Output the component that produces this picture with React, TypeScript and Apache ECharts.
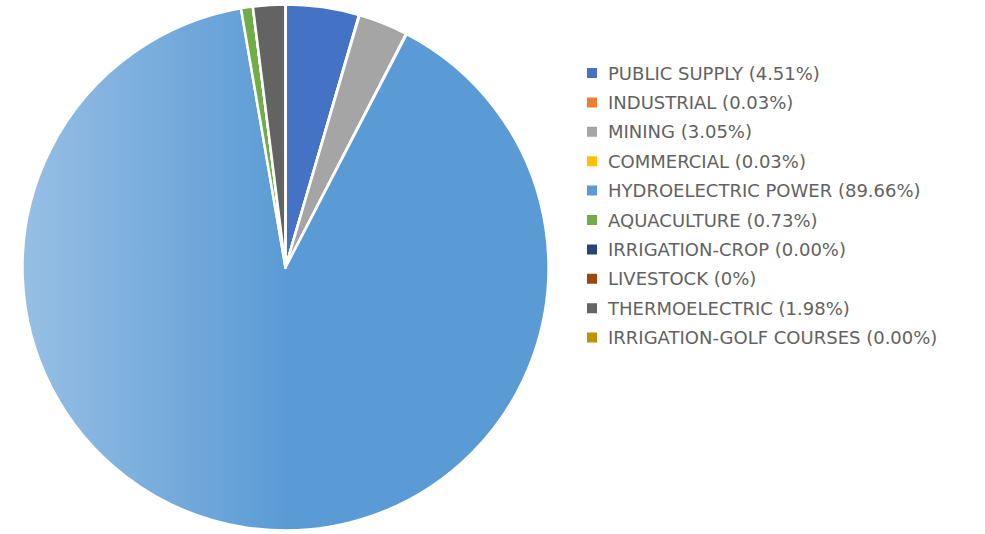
import React, { useEffect, useRef } from "react";
import * as echarts from "echarts";

const categories = [
  "PUBLIC SUPPLY",
  "INDUSTRIAL",
  "MINING",
  "COMMERCIAL",
  "HYDROELECTRIC POWER",
  "AQUACULTURE",
  "IRRIGATION-CROP",
  "LIVESTOCK",
  "THERMOELECTRIC",
  "IRRIGATION-GOLF COURSES",
];
const values = [4.51, 0.03, 3.05, 0.03, 89.66, 0.73, 0.0, 0, 1.98, 0.0];
const percentLabels = ["4.51%", "0.03%", "3.05%", "0.03%", "89.66%", "0.73%", "0.00%", "0%", "1.98%", "0.00%"];
const colors = [
  "#4472C4",
  "#ED7D31",
  "#A5A5A5",
  "#FFC000",
  "#5B9BD5",
  "#70AD47",
  "#264478",
  "#9E480E",
  "#636363",
  "#BF9000",
];

export default function App() {
  const ref = useRef<HTMLDivElement>(null);
  useEffect(() => {
    if (!ref.current) return;
    const chart = echarts.init(ref.current, undefined, { renderer: "svg" });
    const data = categories.map((name, i) => ({
      name,
      value: values[i],
      itemStyle:
        name === "HYDROELECTRIC POWER"
          ? {
              color: new echarts.graphic.LinearGradient(0, 0, 1, 0, [
                { offset: 0, color: "#97BFE4" },
                { offset: 0.5, color: "#5B9BD5" },
                { offset: 1, color: "#5B9BD5" },
              ]),
            }
          : { color: colors[i] },
    }));
    chart.setOption({
      animation: false,
      color: colors,
      legend: {
        orient: "vertical",
        left: 585,
        top: 64,
        padding: 0,
        itemWidth: 12,
        itemHeight: 12,
        itemGap: 11.4,
        icon: "rect",
        data: categories.map((name, i) => ({
          name,
          itemStyle: { color: colors[i] },
        })),
        formatter: (name: string) => {
          const i = categories.indexOf(name);
          return `${name} (${percentLabels[i]})`;
        },
        textStyle: {
          fontFamily: "DejaVu Sans",
          fontSize: 18,
          color: "#626262",
          lineHeight: 18,
          padding: [0, 0, 0, 5],
        },
      },
      series: [
        {
          type: "pie",
          center: [285.5, 267.5],
          radius: 263,
          startAngle: 90,
          clockwise: true,
          label: { show: false },
          labelLine: { show: false },
          emphasis: { disabled: true },
          itemStyle: { borderColor: "#ffffff", borderWidth: 2.5 },
          data,
        },
      ],
    });
    return () => chart.dispose();
  }, []);
  return (
    <div
      ref={ref}
      style={{ position: "fixed", left: 0, top: 0, width: 985, height: 534, background: "#fff" }}
    />
  );
}
